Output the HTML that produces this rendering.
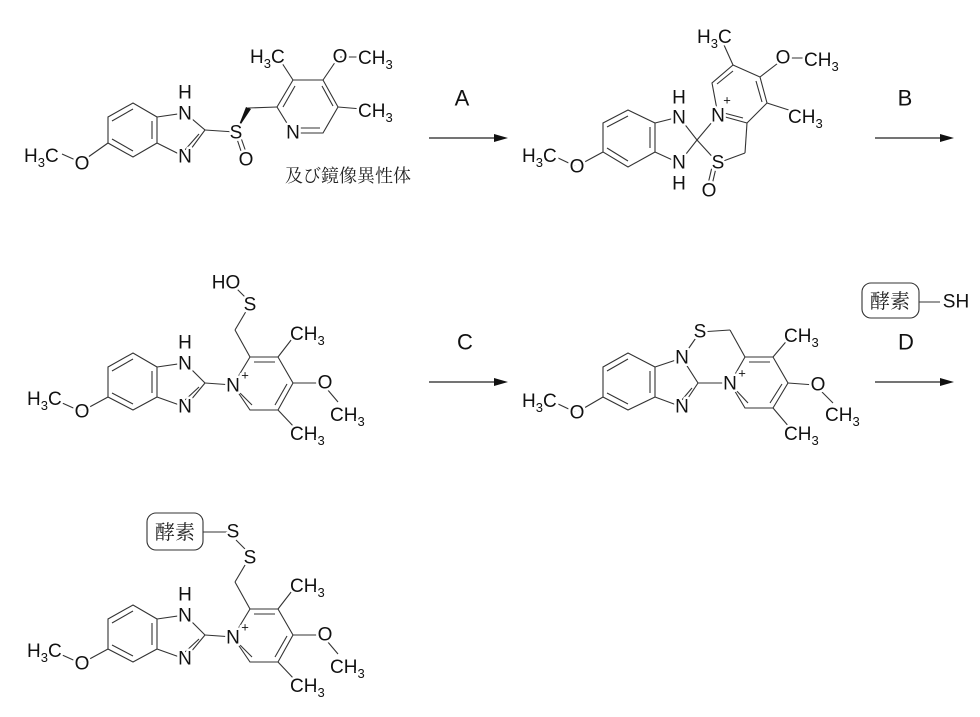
<!DOCTYPE html>
<html><head><meta charset="utf-8">
<style>
html,body{margin:0;padding:0;background:#fff;}
svg{display:block;}
.b line,.b polyline,.b polygon.r{stroke:#333;stroke-width:1.1;fill:none;}
text{font-family:"Liberation Sans",sans-serif;font-size:19px;fill:#111;paint-order:stroke;stroke:#fff;stroke-width:5px;stroke-linejoin:round;}
.t{dominant-baseline:central;text-anchor:middle;}
.s{font-size:13px;}
.big{font-size:22px;stroke-width:0;}
.jp{font-family:"Liberation Serif","Noto Serif CJK SC",serif;font-size:18px;stroke-width:0;fill:#222;}
.jp2{font-size:20px;}
.arrow{stroke:#222;stroke-width:1.2;}
</style></head><body>
<svg width="980" height="717" viewBox="0 0 980 717" xmlns="http://www.w3.org/2000/svg">
<defs>
<g id="arr">
  <line class="arrow" x1="0" y1="0" x2="68" y2="0"/>
  <polygon points="65,-4 79,0 65,4" fill="#111"/>
</g>
</defs>

<use href="#arr" x="429" y="138"/>
<use href="#arr" x="875" y="138"/>
<use href="#arr" x="429" y="382"/>
<use href="#arr" x="875" y="382"/>
<text class="t big" x="462" y="98">A</text>
<text class="t big" x="905" y="98">B</text>
<text class="t big" x="465" y="342">C</text>
<text class="t big" x="906" y="342">D</text>

<!-- Molecule 1 -->
<g class="b">
  <polygon class="r" points="108,117 133,103 157,117 157,143 133,157 108,143"/>
  <line x1="112" y1="121" x2="133" y2="109"/>
  <line x1="152" y1="121" x2="152" y2="139"/>
  <line x1="112" y1="139" x2="133" y2="151"/>
  <polyline points="157,117 185,113 205,130 185,157 157,143"/>
  <line x1="199" y1="134" x2="184" y2="151"/>
  <line x1="205" y1="130" x2="235" y2="132"/>
  <line x1="236" y1="136" x2="243" y2="157"/>
  <line x1="240" y1="135" x2="247" y2="155"/>
  <line x1="248" y1="108" x2="277" y2="107"/>
  <polygon class="r" points="277,107 293,80 323,80 338,107 323,133 293,133"/>
  <line x1="283" y1="107" x2="295" y2="86"/>
  <line x1="322" y1="86" x2="333" y2="106"/>
  <line x1="297" y1="128" x2="320" y2="128"/>
  <line x1="293" y1="80" x2="280" y2="60"/>
  <line x1="323" y1="80" x2="338" y2="58"/>
  <line x1="340" y1="57" x2="362" y2="57"/>
  <line x1="338" y1="107" x2="362" y2="109"/>
  <line x1="108" y1="143" x2="84" y2="160"/>
  <line x1="80" y1="162" x2="62" y2="154"/>
</g>
<polygon points="237,130 246,107 251,109" fill="#111"/>
<text class="t" x="185" y="93">H</text>
<text class="t" x="185" y="114">N</text>
<text class="t" x="185" y="157">N</text>
<text class="t" x="236" y="133">S</text>
<text class="t" x="246" y="160">O</text>
<text class="t" x="293" y="133">N</text>
<text class="t" x="82" y="164">O</text>
<text x="24" y="162">H<tspan class="s" dy="5">3</tspan><tspan dy="-5">C</tspan></text>
<text x="250" y="63">H<tspan class="s" dy="5">3</tspan><tspan dy="-5">C</tspan></text>
<text class="t" x="340" y="57">O</text>
<text x="358" y="64">CH<tspan class="s" dy="5">3</tspan></text>
<text x="358" y="117">CH<tspan class="s" dy="5">3</tspan></text>
<text class="jp" x="285" y="182">及び鏡像異性体</text>

<!-- Molecule 2 -->
<g class="b">
  <polygon class="r" points="603,123 628,110 655,123 655,152 628,167 603,152"/>
  <line x1="607" y1="127" x2="628" y2="116"/>
  <line x1="650" y1="127" x2="650" y2="148"/>
  <line x1="607" y1="148" x2="628" y2="161"/>
  <polyline points="655,123 679,117 697,140 679,163 655,152"/>
  <line x1="697" y1="140" x2="718" y2="115"/>
  <line x1="697" y1="140" x2="718" y2="163"/>
  <line x1="716" y1="168" x2="712" y2="185"/>
  <line x1="712" y1="167" x2="708" y2="184"/>
  <line x1="718" y1="163" x2="745" y2="153"/>
  <line x1="745" y1="153" x2="747" y2="123"/>
  <line x1="747" y1="123" x2="718" y2="115"/>
  <line x1="743" y1="118" x2="724" y2="113"/>
  <polyline points="718,115 712,83 733,65 760,77 767,103 747,123"/>
  <line x1="717" y1="84" x2="733" y2="71"/>
  <line x1="756" y1="81" x2="762" y2="102"/>
  <line x1="733" y1="65" x2="724" y2="45"/>
  <line x1="760" y1="77" x2="782" y2="60"/>
  <line x1="785" y1="58" x2="805" y2="58"/>
  <line x1="767" y1="103" x2="795" y2="112"/>
  <line x1="603" y1="152" x2="579" y2="165"/>
  <line x1="575" y1="166" x2="556" y2="157"/>
</g>
<text class="t" x="679" y="98">H</text>
<text class="t" x="679" y="118">N</text>
<text class="t" x="679" y="163">N</text>
<text class="t" x="679" y="184">H</text>
<text class="t" x="718" y="116">N</text>
<text class="t s" x="727" y="100">+</text>
<text class="t" x="718" y="163">S</text>
<text class="t" x="709" y="191">O</text>
<text x="697" y="43">H<tspan class="s" dy="5">3</tspan><tspan dy="-5">C</tspan></text>
<text class="t" x="783" y="58">O</text>
<text x="804" y="66">CH<tspan class="s" dy="5">3</tspan></text>
<text x="788" y="123">CH<tspan class="s" dy="5">3</tspan></text>
<text class="t" x="577" y="167">O</text>
<text x="522" y="162">H<tspan class="s" dy="5">3</tspan><tspan dy="-5">C</tspan></text>

<defs>
<g id="core">
  <g class="b">
    <polygon class="r" points="108,367 133,353 157,367 157,397 133,410 108,397"/>
    <line x1="112" y1="371" x2="133" y2="359"/>
    <line x1="152" y1="371" x2="152" y2="393"/>
    <line x1="112" y1="393" x2="133" y2="404"/>
    <polyline points="157,367 185,363 205,383 185,407 157,397"/>
    <line x1="199" y1="387" x2="184" y2="401"/>
    <line x1="205" y1="383" x2="233" y2="385"/>
    <polygon class="r" points="233,385 250,357 278,357 293,383 278,410 250,410"/>
    <line x1="254" y1="362" x2="275" y2="362"/>
    <line x1="287" y1="384" x2="275" y2="405"/>
    <line x1="237" y1="390" x2="252" y2="405"/>
    <line x1="250" y1="357" x2="235" y2="330"/>
    <line x1="278" y1="357" x2="295" y2="335"/>
    <line x1="293" y1="383" x2="320" y2="383"/>
    <line x1="327" y1="389" x2="338" y2="402"/>
    <line x1="278" y1="410" x2="295" y2="428"/>
    <line x1="108" y1="397" x2="84" y2="410"/>
    <line x1="80" y1="411" x2="60" y2="402"/>
  </g>
  <text class="t" x="185" y="343">H</text>
  <text class="t" x="185" y="364">N</text>
  <text class="t" x="185" y="407">N</text>
  <text class="t" x="233" y="386">N</text>
  <text class="t s" x="245" y="375">+</text>
  <text x="290" y="340">CH<tspan class="s" dy="5">3</tspan></text>
  <text class="t" x="325" y="383">O</text>
  <text x="330" y="421">CH<tspan class="s" dy="5">3</tspan></text>
  <text x="290" y="440">CH<tspan class="s" dy="5">3</tspan></text>
  <text class="t" x="82" y="412">O</text>
  <text x="27" y="405">H<tspan class="s" dy="5">3</tspan><tspan dy="-5">C</tspan></text>
</g>
</defs>

<g class="b">
  <line x1="235" y1="330" x2="248" y2="308"/>
  <line x1="246" y1="298" x2="236" y2="288"/>
</g>
<use href="#core"/>
<text class="t" x="250" y="305">S</text>
<text class="t" x="226" y="283">HO</text>

<g class="b" transform="translate(0,252)">
  <line x1="235" y1="330" x2="248" y2="308"/>
  <line x1="246" y1="298" x2="236" y2="288"/>
</g>
<g transform="translate(0,252)"><use href="#core"/></g>
<g class="b"><line x1="203" y1="532" x2="228" y2="532"/></g>
<rect x="147" y="513" width="56" height="37" rx="9" fill="none" stroke="#333" stroke-width="1.1"/>
<text class="jp jp2" x="155" y="539">酵素</text>
<text class="t" x="233" y="532">S</text>
<text class="t" x="250" y="558">S</text>

<!-- Molecule 4 -->
<g class="b">
  <polygon class="r" points="603,367 628,353 655,367 655,397 628,410 603,397"/>
  <line x1="607" y1="371" x2="628" y2="359"/>
  <line x1="650" y1="371" x2="650" y2="393"/>
  <line x1="607" y1="393" x2="628" y2="404"/>
  <polyline points="655,367 682,358 698,383 682,407 655,397"/>
  <line x1="692" y1="388" x2="681" y2="401"/>
  <line x1="682" y1="358" x2="700" y2="332"/>
  <line x1="700" y1="332" x2="730" y2="330"/>
  <line x1="730" y1="330" x2="745" y2="357"/>
  <line x1="698" y1="383" x2="730" y2="383"/>
  <polygon class="r" points="730,383 745,357 773,357 788,383 773,408 745,408"/>
  <line x1="749" y1="362" x2="770" y2="362"/>
  <line x1="782" y1="384" x2="770" y2="403"/>
  <line x1="734" y1="388" x2="748" y2="403"/>
  <line x1="773" y1="357" x2="790" y2="337"/>
  <line x1="788" y1="383" x2="815" y2="385"/>
  <line x1="821" y1="391" x2="833" y2="403"/>
  <line x1="773" y1="408" x2="790" y2="428"/>
  <line x1="603" y1="397" x2="579" y2="411"/>
  <line x1="575" y1="412" x2="556" y2="403"/>
</g>
<text class="t" x="682" y="358">N</text>
<text class="t" x="700" y="332">S</text>
<text class="t" x="682" y="407">N</text>
<text class="t" x="730" y="384">N</text>
<text class="t s" x="742" y="373">+</text>
<text x="784" y="342">CH<tspan class="s" dy="5">3</tspan></text>
<text class="t" x="818" y="385">O</text>
<text x="825" y="421">CH<tspan class="s" dy="5">3</tspan></text>
<text x="784" y="440">CH<tspan class="s" dy="5">3</tspan></text>
<text class="t" x="577" y="413">O</text>
<text x="522" y="407">H<tspan class="s" dy="5">3</tspan><tspan dy="-5">C</tspan></text>

<rect x="862" y="283" width="57" height="35" rx="9" fill="none" stroke="#333" stroke-width="1.1"/>
<text class="jp jp2" x="870" y="308">酵素</text>
<g class="b"><line x1="919" y1="302" x2="940" y2="302"/></g>
<text class="t" x="956" y="302">SH</text>
</svg>
</body></html>
